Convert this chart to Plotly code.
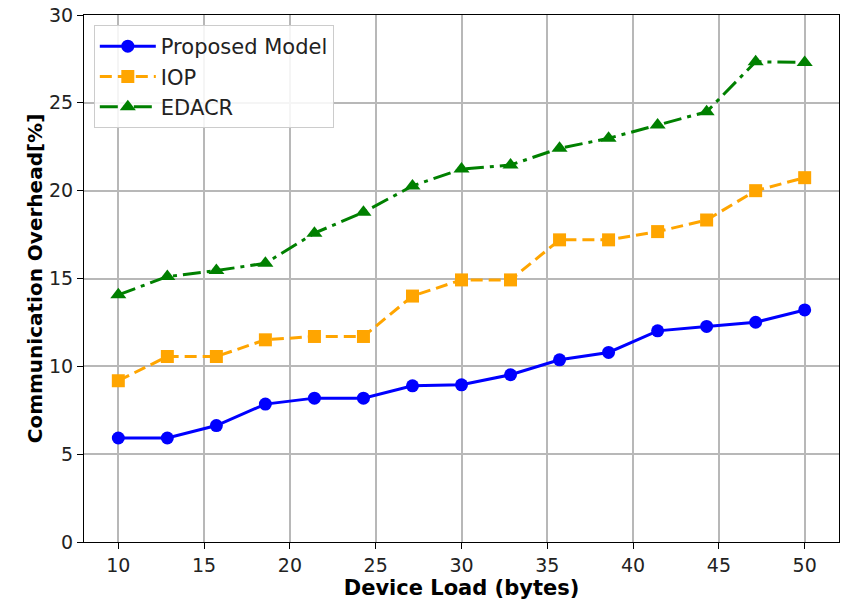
import numpy as np
import plotly.graph_objects as go

# Device load sampled at 15 evenly spaced points between 10 and 50 bytes
device_load = [10.0, 12.857, 15.714, 18.571, 21.429, 24.286, 27.143, 30.0,
               32.857, 35.714, 38.571, 41.429, 44.286, 47.143, 50.0]

proposed = [5.92, 5.92, 6.63, 7.85, 8.19, 8.19, 8.89, 8.95,
            9.52, 10.37, 10.79, 12.02, 12.27, 12.51, 13.21]
iop = [9.18, 10.56, 10.56, 11.51, 11.70, 11.70, 14.0, 14.92,
       14.92, 17.2, 17.2, 17.67, 18.33, 20.0, 20.74]
edacr = [14.07, 15.11, 15.45, 15.87, 17.58, 18.77, 20.27, 21.23,
         21.46, 22.41, 22.98, 23.74, 24.49, 27.34, 27.3]

x_ticks = [10, 15, 20, 25, 30, 35, 40, 45, 50]
y_ticks = [0, 5, 10, 15, 20, 25, 30]

FONT = "DejaVu Sans"

fig = go.Figure()
fig.add_trace(go.Scatter(
    x=device_load, y=proposed, name="Proposed Model", mode="lines+markers",
    line=dict(color="#0000ff", width=3, dash="solid"),
    marker=dict(symbol="circle", size=13, color="#0000ff"),
))
fig.add_trace(go.Scatter(
    x=device_load, y=iop, name="IOP", mode="lines+markers",
    line=dict(color="#ffa500", width=3, dash="12px,6px"),
    marker=dict(symbol="square", size=13, color="#ffa500"),
))
fig.add_trace(go.Scatter(
    x=device_load, y=edacr, name="EDACR", mode="lines+markers",
    line=dict(color="#008000", width=3, dash="18px,6px,4px,6px"),
    marker=dict(symbol="triangle-up", size=14, color="#008000"),
))

axis_common = dict(
    showline=True, linecolor="black", linewidth=1.2, mirror=True,
    showgrid=True, gridcolor="#b8b8b8", gridwidth=1.5,
    ticks="outside", ticklen=6, tickwidth=1.2, tickcolor="black",
    tickfont=dict(family=FONT, size=19, color="#222222"),
    zeroline=False,
)

fig.update_layout(
    width=842, height=603,
    margin=dict(l=84, r=3, t=15, b=61),
    paper_bgcolor="white", plot_bgcolor="white",
    font=dict(family=FONT, color="black"),
    xaxis=dict(
        range=[8, 52], tickvals=x_ticks,
        title=dict(text="<b>Device Load (bytes)</b>", font=dict(family=FONT, size=21, color="black"), standoff=3),
        **axis_common,
    ),
    yaxis=dict(
        range=[0, 30], tickvals=y_ticks,
        title=dict(text="<b>Communication Overhead[%]</b>", font=dict(family=FONT, size=20, color="black"), standoff=0),
        **axis_common,
    ),
    legend=dict(
        x=0.013, y=0.981, xanchor="left", yanchor="top",
        bgcolor="rgba(255,255,255,0.85)", bordercolor="#cccccc", borderwidth=1,
        font=dict(family=FONT, size=21, color="#222222"),
        itemwidth=56, tracegroupgap=0,
    ),
    showlegend=True,
)

fig.write_html("out.html")
